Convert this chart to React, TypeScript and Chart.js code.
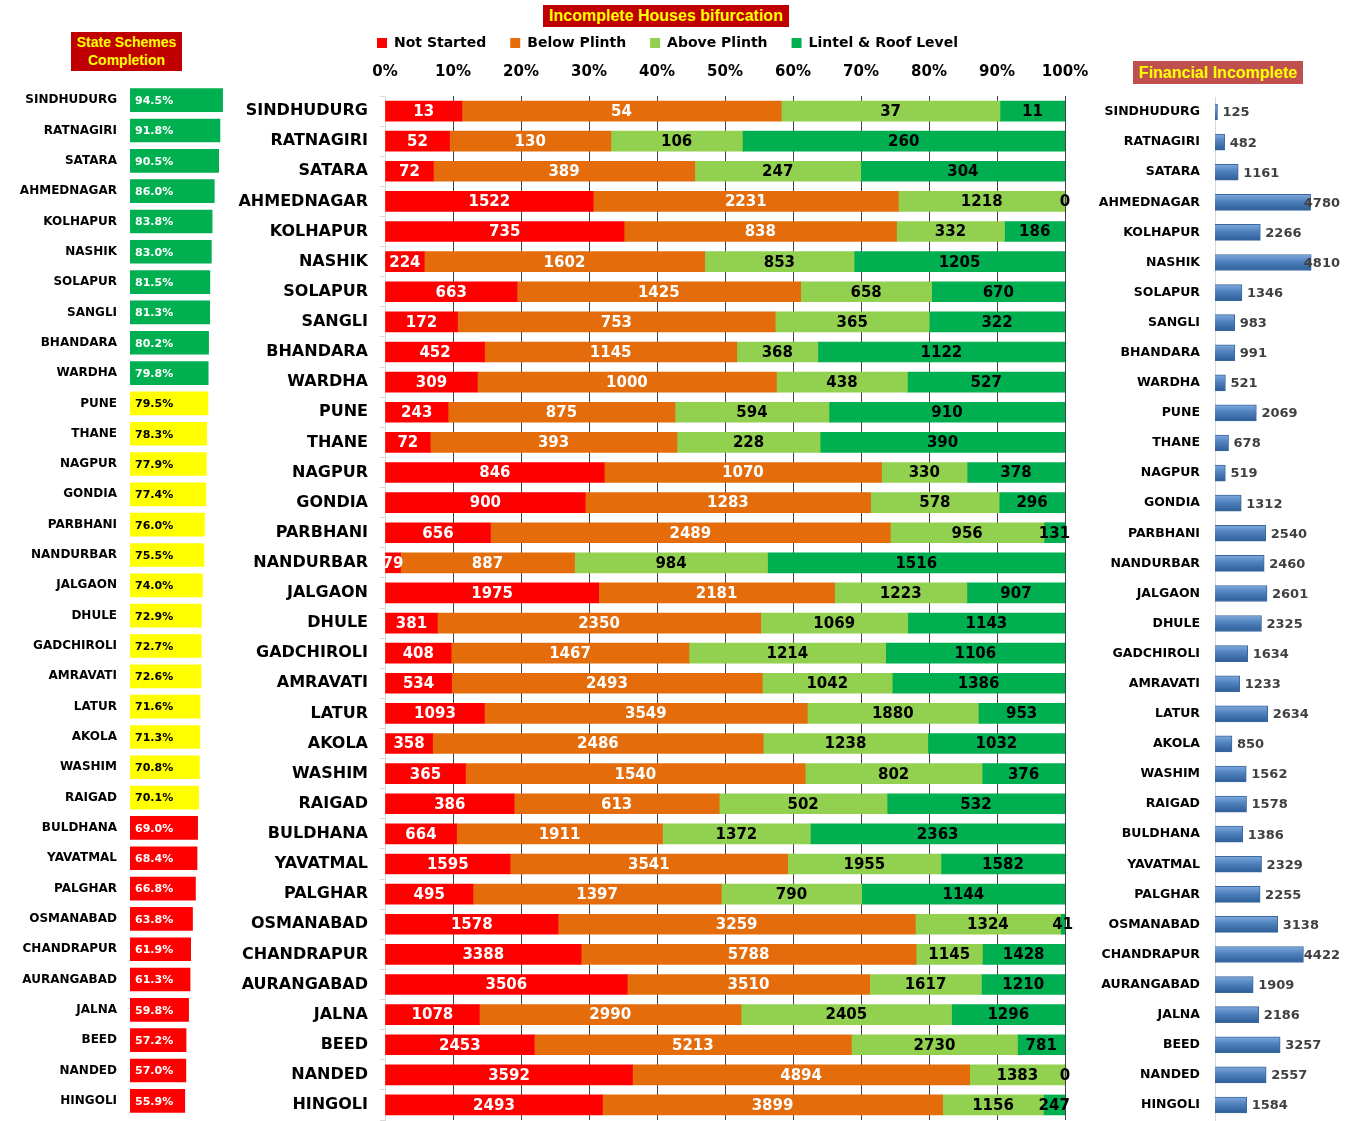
import React, { useEffect, useRef } from "react";
import { Chart, registerables } from "chart.js";

Chart.register(...registerables);

// ---------------- DATA ----------------
const districts = [
  "SINDHUDURG", "RATNAGIRI", "SATARA", "AHMEDNAGAR", "KOLHAPUR", "NASHIK", "SOLAPUR", "SANGLI",
  "BHANDARA", "WARDHA", "PUNE", "THANE", "NAGPUR", "GONDIA", "PARBHANI", "NANDURBAR", "JALGAON",
  "DHULE", "GADCHIROLI", "AMRAVATI", "LATUR", "AKOLA", "WASHIM", "RAIGAD", "BULDHANA", "YAVATMAL",
  "PALGHAR", "OSMANABAD", "CHANDRAPUR", "AURANGABAD", "JALNA", "BEED", "NANDED", "HINGOLI",
];

const stateCompletion = [
  94.5, 91.8, 90.5, 86.0, 83.8, 83.0, 81.5, 81.3, 80.2, 79.8, 79.5, 78.3, 77.9, 77.4, 76.0, 75.5, 74.0,
  72.9, 72.7, 72.6, 71.6, 71.3, 70.8, 70.1, 69.0, 68.4, 66.8, 63.8, 61.9, 61.3, 59.8, 57.2, 57.0, 55.9,
];

const notStarted = [
  13, 52, 72, 1522, 735, 224, 663, 172, 452, 309, 243, 72, 846, 900, 656, 79, 1975,
  381, 408, 534, 1093, 358, 365, 386, 664, 1595, 495, 1578, 3388, 3506, 1078, 2453, 3592, 2493,
];
const belowPlinth = [
  54, 130, 389, 2231, 838, 1602, 1425, 753, 1145, 1000, 875, 393, 1070, 1283, 2489, 887, 2181,
  2350, 1467, 2493, 3549, 2486, 1540, 613, 1911, 3541, 1397, 3259, 5788, 3510, 2990, 5213, 4894, 3899,
];
const abovePlinth = [
  37, 106, 247, 1218, 332, 853, 658, 365, 368, 438, 594, 228, 330, 578, 956, 984, 1223,
  1069, 1214, 1042, 1880, 1238, 802, 502, 1372, 1955, 790, 1324, 1145, 1617, 2405, 2730, 1383, 1156,
];
const lintelRoof = [
  11, 260, 304, 0, 186, 1205, 670, 322, 1122, 527, 910, 390, 378, 296, 131, 1516, 907,
  1143, 1106, 1386, 953, 1032, 376, 532, 2363, 1582, 1144, 41, 1428, 1210, 1296, 781, 0, 247,
];

const financialIncomplete = [
  125, 482, 1161, 4780, 2266, 4810, 1346, 983, 991, 521, 2069, 678, 519, 1312, 2540, 2460, 2601,
  2325, 1634, 1233, 2634, 850, 1562, 1578, 1386, 2329, 2255, 3138, 4422, 1909, 2186, 3257, 2557, 1584,
];

const seriesNames = ["Not Started", "Below Plinth", "Above Plinth", "Lintel & Roof Level"];
const seriesValues = [notStarted, belowPlinth, abovePlinth, lintelRoof];

// ---------------- STYLE ----------------
const FONT = "'DejaVu Sans', 'Liberation Sans', sans-serif";
const TITLE_FONT = "'Liberation Sans', Arial, sans-serif";
const seriesColors = ["#FF0000", "#E46C0A", "#92D050", "#00B050"];
const seriesTextColors = ["#FFFFFF", "#FFFFFF", "#000000", "#000000"];

function completionColor(v: number) {
  if (v >= 79.7) return "#00B050";
  if (v >= 70) return "#FFFF00";
  return "#FF0000";
}
function completionTextColor(v: number) {
  return v >= 70 && v < 79.7 ? "#000000" : "#FFFFFF";
}

function noVerticalPadding(s: any) {
  s.paddingTop = 0;
  s.paddingBottom = 0;
}

function blueBarFill(c: any) {
  const ch = c.chart;
  const y = ch.scales && ch.scales.y;
  if (!y || c.type !== "data" || !isFinite(y.getPixelForValue(c.dataIndex))) return "#4F81BD";
  const cy = y.getPixelForValue(c.dataIndex);
  const g = ch.ctx.createLinearGradient(0, cy - 8, 0, cy + 8);
  g.addColorStop(0, "#7FA9DE");
  g.addColorStop(0.45, "#4F81BD");
  g.addColorStop(1, "#2E5E98");
  return g;
}

// ---------------- PLUGINS ----------------
const stackLabelPlugin = {
  id: "stackLabels",
  afterDatasetsDraw(chart: any) {
    const ctx = chart.ctx;
    ctx.save();
    ctx.font = `bold 15px ${FONT}`;
    ctx.textAlign = "center";
    ctx.textBaseline = "middle";
    chart.data.datasets.forEach((_ds: any, di: number) => {
      const meta = chart.getDatasetMeta(di);
      ctx.fillStyle = seriesTextColors[di];
      meta.data.forEach((el: any, i: number) => {
        const p = el.getProps(["x", "y", "base"], true);
        ctx.fillText(String(seriesValues[di][i]), (p.x + p.base) / 2, p.y + 1);
      });
    });
    ctx.restore();
  },
};

const legendShiftPlugin = {
  id: "legendShift",
  afterLayout(chart: any) {
    const lg = chart.legend;
    if (lg) {
      lg.left += 20;
      lg.right += 20;
    }
  },
};

const completionLabelPlugin = {
  id: "completionLabels",
  afterDatasetsDraw(chart: any) {
    const ctx = chart.ctx;
    ctx.save();
    ctx.font = `bold 11px ${FONT}`;
    ctx.textAlign = "left";
    ctx.textBaseline = "middle";
    const meta = chart.getDatasetMeta(0);
    meta.data.forEach((el: any, i: number) => {
      const p = el.getProps(["x", "y", "base"], true);
      const v = stateCompletion[i];
      ctx.fillStyle = completionTextColor(v);
      ctx.fillText(v.toFixed(1) + "%", p.base + 5, p.y + 1);
    });
    ctx.restore();
  },
};

const financialLabelPlugin = {
  id: "financialLabels",
  afterDatasetsDraw(chart: any) {
    const ctx = chart.ctx;
    ctx.save();
    ctx.font = `bold 13px ${FONT}`;
    ctx.textAlign = "left";
    ctx.textBaseline = "middle";
    ctx.fillStyle = "#404040";
    const limit = chart.width - 24;
    const meta = chart.getDatasetMeta(0);
    meta.data.forEach((el: any, i: number) => {
      const p = el.getProps(["x", "y"], true);
      const txt = String(financialIncomplete[i]);
      const w = ctx.measureText(txt).width;
      const x = Math.min(p.x + 5, limit - w);
      ctx.fillText(txt, x, p.y + 1);
    });
    ctx.restore();
  },
};

// ---------------- CONFIGS ----------------
function leftConfig(): any {
  return {
    type: "bar",
    data: {
      labels: districts,
      datasets: [
        {
          label: "State Schemes Completion",
          data: stateCompletion,
          backgroundColor: stateCompletion.map(completionColor),
          borderWidth: 0,
          barThickness: 23,
        },
      ],
    },
    options: {
      indexAxis: "y",
      responsive: false,
      maintainAspectRatio: false,
      animation: false,
      layout: { padding: { left: 0, right: 12, top: 5, bottom: 4 } },
      plugins: { legend: { display: false }, tooltip: { enabled: false } },
      scales: {
        x: { min: 0, max: 100, display: false },
        y: {
          ticks: { color: "#000", font: { family: FONT, size: 12, weight: "bold" }, padding: 13, autoSkip: false },
          grid: { display: false, drawTicks: false },
          border: { display: false },
          afterFit: (s: any) => { s.width = 130; noVerticalPadding(s); },
        },
      },
    },
    plugins: [completionLabelPlugin],
  };
}

function midConfig(): any {
  const totals = districts.map((_, i) => seriesValues.reduce((s, arr) => s + arr[i], 0));
  return {
    type: "bar",
    data: {
      labels: districts,
      datasets: seriesValues.map((arr, di) => ({
        label: seriesNames[di],
        data: arr.map((v, i) => (totals[i] ? (v / totals[i]) * 100 : 0)),
        backgroundColor: seriesColors[di],
        borderWidth: 0,
        barThickness: 20,
        stack: "s",
      })),
    },
    options: {
      indexAxis: "y",
      responsive: false,
      maintainAspectRatio: false,
      animation: false,
      layout: { padding: { left: 0, right: 41, top: 12, bottom: 1 } },
      plugins: {
        legend: {
          display: true,
          position: "top",
          labels: {
            boxWidth: 10,
            boxHeight: 10,
            padding: 24,
            color: "#000",
            font: { family: FONT, size: 14, weight: "bold" },
          },
        },
        tooltip: { enabled: false },
      },
      scales: {
        x: {
          type: "linear",
          position: "top",
          stacked: true,
          min: 0,
          max: 100,
          ticks: {
            stepSize: 10,
            callback: (v: any) => v + "%",
            color: "#000",
            font: { family: FONT, size: 15, weight: "bold" },
            padding: 15,
          },
          grid: {
            color: (c: any) => (c.tick && c.tick.value === 0 ? "rgba(0,0,0,0)" : "#404040"),
            drawTicks: false,
          },
          border: { display: false },
          afterFit: (s: any) => { s.height = 36; },
        },
        y: {
          stacked: true,
          ticks: { color: "#000", font: { family: FONT, size: 16, weight: "bold" }, padding: 12, autoSkip: false },
          grid: { drawOnChartArea: false, color: "#d9d9d9", tickLength: 5, offset: true },
          border: { display: true, color: "#d9d9d9" },
          afterFit: (s: any) => { s.width = 155; noVerticalPadding(s); },
        },
      },
    },
    plugins: [stackLabelPlugin, legendShiftPlugin],
  };
}

function rightConfig(): any {
  return {
    type: "bar",
    data: {
      labels: districts,
      datasets: [
        {
          label: "Financial Incomplete",
          data: financialIncomplete,
          backgroundColor: blueBarFill,
          borderColor: "#3A679E",
          borderWidth: 1,
          barThickness: 16,
        },
      ],
    },
    options: {
      indexAxis: "y",
      responsive: false,
      maintainAspectRatio: false,
      animation: false,
      layout: { padding: { left: 0, right: 49, top: 7, bottom: 1 } },
      plugins: { legend: { display: false }, tooltip: { enabled: false } },
      scales: {
        x: { min: 0, max: 5000, display: false },
        y: {
          ticks: { color: "#000", font: { family: FONT, size: 12.5, weight: "bold" }, padding: 15, autoSkip: false },
          grid: { display: false, drawTicks: false },
          border: { display: true, color: "#d9d9d9" },
          afterFit: (s: any) => { s.width = 135; noVerticalPadding(s); },
        },
      },
    },
    plugins: [financialLabelPlugin],
  };
}

// ---------------- COMPONENT ----------------
export default function App() {
  const leftRef = useRef<HTMLCanvasElement>(null);
  const midRef = useRef<HTMLCanvasElement>(null);
  const rightRef = useRef<HTMLCanvasElement>(null);

  useEffect(() => {
    const charts: Chart[] = [];
    if (leftRef.current) charts.push(new Chart(leftRef.current, leftConfig()));
    if (midRef.current) charts.push(new Chart(midRef.current, midConfig()));
    if (rightRef.current) charts.push(new Chart(rightRef.current, rightConfig()));
    return () => charts.forEach((c) => c.destroy());
  }, []);

  const titleBox: React.CSSProperties = {
    position: "absolute",
    color: "#FFFF00",
    fontFamily: TITLE_FONT,
    fontWeight: "bold",
    textAlign: "center",
    boxSizing: "border-box",
    zIndex: 2,
  };

  return (
    <div style={{ position: "absolute", left: 0, top: 0, width: 1364, height: 1121, background: "#fff", overflow: "hidden" }}>
      <canvas ref={leftRef} width={240} height={1040} style={{ position: "absolute", left: 0, top: 80, width: 240, height: 1040 }} />
      <canvas ref={midRef} width={876} height={1121} style={{ position: "absolute", left: 230, top: 0, width: 876, height: 1121 }} />
      <canvas ref={rightRef} width={284} height={1031} style={{ position: "absolute", left: 1080, top: 90, width: 284, height: 1031 }} />
      <div style={{ ...titleBox, left: 543, top: 5, width: 246, height: 22, lineHeight: "22px", fontSize: 16, background: "#C00000" }}>
        Incomplete Houses bifurcation
      </div>
      <div style={{ ...titleBox, left: 71, top: 32, width: 111, height: 39, lineHeight: "18px", paddingTop: 1, fontSize: 14, background: "#C00000" }}>
        State Schemes
        <br />
        Completion
      </div>
      <div style={{ ...titleBox, left: 1133, top: 61, width: 170, height: 23, lineHeight: "23px", fontSize: 16, background: "#C0504D" }}>
        Financial Incomplete
      </div>
    </div>
  );
}
